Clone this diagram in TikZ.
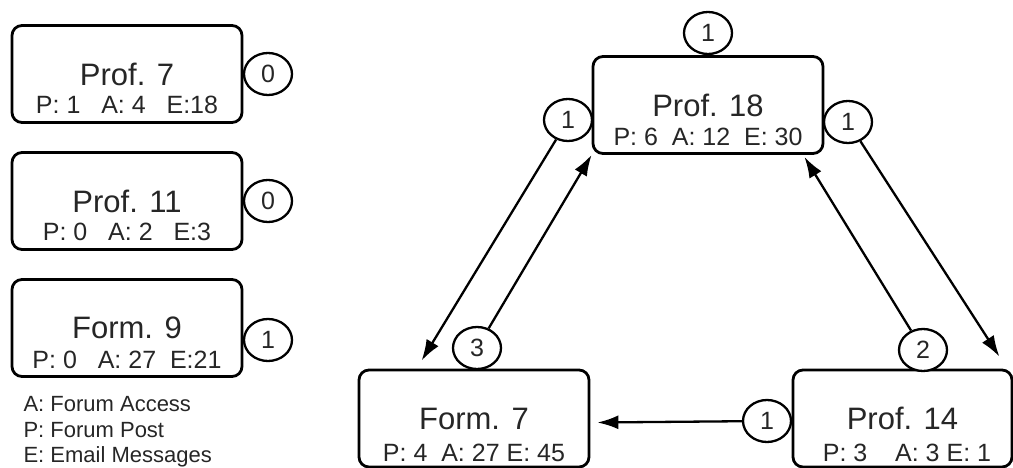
\documentclass[tikz,border=0pt]{standalone}
\usepackage{fontspec}
\setmainfont{Liberation Sans}
\usetikzlibrary{shapes.geometric,arrows.meta}
\begin{document}
\begin{tikzpicture}[x=1pt,y=-1pt]
\tikzstyle{every node}=[text=black!85]
\tikzstyle{box}=[draw=black,line width=2.8pt,rounded corners=10pt,minimum width=230pt,minimum height=97pt,font=\fontsize{31}{36}\selectfont]
\tikzstyle{sub}=[font=\fontsize{25}{30}\selectfont]
\tikzstyle{cnt}=[draw=black,ellipse,line width=2.3pt,minimum width=48pt,minimum height=42pt,inner sep=0pt,fill=white,font=\fontsize{25}{30}\selectfont]
\tikzstyle{key}=[align=left,font=\fontsize{22}{25.5}\selectfont]
\tikzstyle{lnk}=[line width=2.3pt,-{Latex[length=21pt,width=14pt]}]
\useasboundingbox (0,0) rectangle (1013,468);
% single nodes on the left
\node[box](p7) at (127,74) {Prof. 7};
\node[sub](p7s) at (127,105) {P: 1\ \ \ A: 4\ \ \ E:18};
\node[cnt](c7) at (268,74) {0};
\node[box](p11) at (127,201) {Prof. 11};
\node[sub](p11s) at (127,232) {P: 0\ \ \ A: 2\ \ \ E:3};
\node[cnt](c11) at (268,201) {0};
\node[box](f9) at (127,328) {Form. 9};
\node[sub](f9s) at (127,360) {P: 0\ \ \ A: 27\ \ E:21};
\node[cnt](c9) at (268,340) {1};
\node[key,anchor=west](leg) at (20,432) {A: Forum Access\\P: Forum Post\\E: Email Messages};
% triangle
\node[box](p18) at (708,105) {Prof. 18};
\node[sub](p18s) at (708,137) {P: 6\ \ A: 12\ \ E: 30};
\node[box](f7) at (474,418.5) {Form. 7};
\node[sub](f7s) at (474,453) {P: 4\ \ A: 27 E: 45};
\node[box,minimum width=219pt](p14) at (902.5,418.5) {Prof. 14};
\node[sub](p14s) at (907,453) {P: 3\ \ \ \ A: 3 E: 1};
\node[cnt](t1) at (708,33) {1};
\node[cnt](l1) at (568,120) {1};
\node[cnt](r1) at (848,122) {1};
\node[cnt](n3) at (477,348) {3};
\node[cnt](n2) at (923,350) {2};
\node[cnt](b1) at (767,421) {1};
\draw[lnk] (l1) -- ([xshift=64pt,yshift=8pt]f7.north west);
\draw[lnk] (n3) -- (p18.south west);
\draw[lnk] (r1) -- ([xshift=-14pt,yshift=12pt]p14.north east);
\draw[lnk] (n2) -- ([xshift=-20pt,yshift=-2pt]p18.south east);
\draw[lnk] (b1) -- ([xshift=7pt,yshift=-4pt]f7.east);
\end{tikzpicture}
\end{document}
